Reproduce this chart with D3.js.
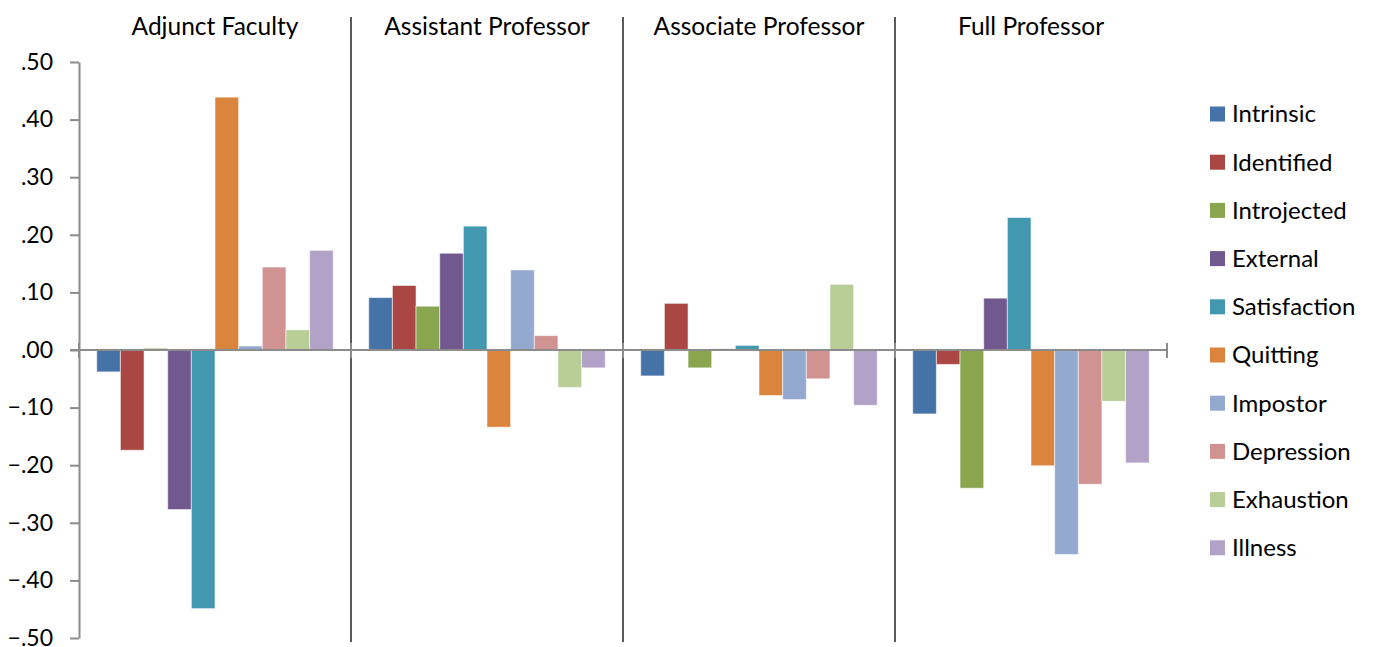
<!DOCTYPE html>
<html>
<head>
<meta charset="utf-8">
<script src="https://cdn.jsdelivr.net/npm/d3@7"></script>
<style>
  body { margin: 0; background: #fff; }
  text { font-family: Lato, "Open Sans", sans-serif; fill: #000; }
</style>
</head>
<body>
<div id="main-chart"></div>
<script>
// groups along the x axis
const groups = ['Adjunct Faculty', 'Assistant Professor', 'Associate Professor', 'Full Professor'];
// series, in legend order
const series = ['Intrinsic', 'Identified', 'Introjected', 'External', 'Satisfaction',
                'Quitting', 'Impostor', 'Depression', 'Exhaustion', 'Illness'];
const colors = ['#4572A7', '#AA4643', '#89A54E', '#71588F', '#4198AF',
                '#DB843D', '#93A9CF', '#D19392', '#B9CD96', '#B3A2C7'];
// one value per series in each group
const adjunct   = [-0.038, -0.174, 0.003, -0.277, -0.449, 0.439, 0.007, 0.144, 0.035, 0.173];
const assistant = [0.091, 0.112, 0.076, 0.168, 0.215, -0.134, 0.139, 0.025, -0.065, -0.031];
const associate = [-0.045, 0.081, -0.031, 0.002, 0.008, -0.079, -0.086, -0.050, 0.114, -0.096];
const full      = [-0.111, -0.025, -0.240, 0.090, 0.230, -0.201, -0.355, -0.233, -0.089, -0.196];
const yTicks = [-0.5, -0.4, -0.3, -0.2, -0.1, 0, 0.1, 0.2, 0.3, 0.4, 0.5];

const values = [adjunct, assistant, associate, full];
const width = 1373, height = 647;

let svg = d3.select('#main-chart')
  .append('svg')
  .attr('width', width)
  .attr('height', height);

//Scales
let x0 = d3.scaleBand().domain(groups).range([79, 1167]);
let x1 = d3.scaleBand().domain(series).range([0, x0.bandwidth()])
           .paddingInner(0).paddingOuter(0.75);
let y = d3.scaleLinear().domain([-0.5, 0.5]).range([638, 62]);
let color = d3.scaleOrdinal().domain(series).range(colors);

const fmt = v => v === 0 ? '.00' : d3.format('.2f')(v).replace('0.', '.');

//Group separators
svg.selectAll('.sep')
  .data(groups.slice(1))
  .join('line')
  .attr('x1', d => x0(d)).attr('x2', d => x0(d))
  .attr('y1', 17).attr('y2', 642)
  .attr('stroke', '#000').attr('stroke-width', 1.3);

//Group titles
svg.selectAll('.gtitle')
  .data(groups)
  .join('text')
  .attr('x', d => x0(d) + x0.bandwidth() / 2)
  .attr('y', 35)
  .attr('text-anchor', 'middle')
  .style('font-size', '24.5px')
  .text(d => d);

//Bars
let rows = [];
groups.forEach((g, gi) => series.forEach((s, si) => rows.push({g, s, v: values[gi][si]})));

svg.selectAll('.bar')
  .data(rows)
  .join('rect')
  .attr('class', 'bar')
  .attr('x', d => x0(d.g) + x1(d.s))
  .attr('width', x1.bandwidth())
  .attr('y', d => y(Math.max(0, d.v)))
  .attr('height', d => Math.abs(y(d.v) - y(0)))
  .attr('fill', d => color(d.s))
  .attr('stroke', 'rgba(255,255,255,0.55)')
  .attr('stroke-width', 1);

//Y axis
let yAxis = svg.append('g')
  .attr('transform', 'translate(79,0)')
  .call(d3.axisLeft(y).tickValues(yTicks).tickFormat(fmt).tickSizeInner(9).tickSizeOuter(0).tickPadding(17));
yAxis.select('.domain').attr('stroke', '#8c8c8c').attr('stroke-width', 2);
yAxis.selectAll('.tick line').attr('stroke', '#8c8c8c').attr('stroke-width', 2);
yAxis.selectAll('.tick text').style('font-size', '23px').style('font-family', 'Lato, sans-serif').attr('fill', '#000');

//Zero line with crossing ticks at group boundaries
svg.append('line')
  .attr('x1', 70).attr('x2', 1168)
  .attr('y1', y(0)).attr('y2', y(0))
  .attr('stroke', '#8c8c8c').attr('stroke-width', 2);
svg.selectAll('.xtick')
  .data(groups.concat(['end']))
  .join('line')
  .attr('x1', d => d === 'end' ? x0.range()[1] : x0(d))
  .attr('x2', d => d === 'end' ? x0.range()[1] : x0(d))
  .attr('y1', y(0) - 7).attr('y2', y(0) + 8)
  .attr('stroke', '#8c8c8c').attr('stroke-width', 2);

//Legend
let legend = svg.selectAll('.legend')
  .data(series)
  .join('g')
  .attr('transform', (d, i) => `translate(1210, ${114 + i * 48.2})`);
legend.append('rect')
  .attr('x', 0).attr('y', -7.5)
  .attr('width', 15).attr('height', 15)
  .attr('fill', d => color(d));
legend.append('text')
  .attr('x', 22).attr('y', 0)
  .attr('dy', '0.35em')
  .style('font-size', '24px')
  .text(d => d);
</script>
</body>
</html>
